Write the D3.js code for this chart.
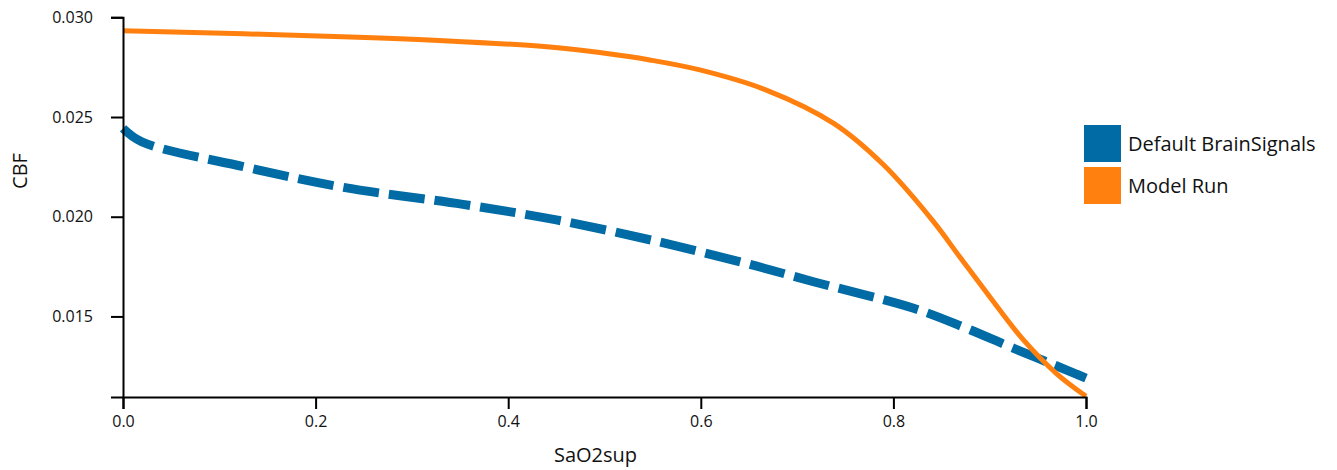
<!DOCTYPE html>
<html>
<head>
<meta charset="utf-8">
<script src="https://cdn.jsdelivr.net/npm/d3@7"></script>
<style>
  html, body { margin: 0; padding: 0; background: #fff; }
  svg { display: block; font-family: "Open Sans", sans-serif; }
</style>
</head>
<body>
<svg id="chart" width="1337" height="470"></svg>
<script>
// ---- data ----
const seriesNames = ["Default BrainSignals", "Model Run"];
const seriesColors = ["#006ba4", "#ff800e"];

const xDefault = [0, 0.0194, 0.125, 0.229, 0.353, 0.450, 0.551, 0.647, 0.717, 0.821, 0.873, 0.925, 0.99, 1.0];
const yDefault = [0.02443, 0.02376, 0.02251, 0.02147, 0.02062, 0.01984, 0.01880, 0.01766, 0.01674, 0.01541, 0.01446, 0.01340, 0.01211, 0.01191];

const xModel = [0, 0.228, 0.333, 0.443, 0.495, 0.547, 0.599, 0.668, 0.738, 0.790, 0.841, 0.869, 0.900, 0.935, 0.969, 1.0];
const yModel = [0.02933, 0.02903, 0.02883, 0.02851, 0.02823, 0.02786, 0.02736, 0.02635, 0.02468, 0.02259, 0.01979, 0.01798, 0.01599, 0.01382, 0.01215, 0.01100];

const xTicks = [0.0, 0.2, 0.4, 0.6, 0.8, 1.0];
const yTicks = [0.015, 0.020, 0.025, 0.030];
const xTitle = "SaO2sup";
const yTitle = "CBF";

(function () {
  // ---- layout ----
  const svg = d3.select("#chart");
  const pLeft = 123, pRight = 1086, pTop = 17.3, pBottom = 397;

  const x = d3.scaleLinear().domain([0, 1]).range([pLeft, pRight]);
  const y = d3.scaleLinear().domain([0.01096, 0.030]).range([pBottom, pTop]);

  const line = d3.line()
    .x(d => x(d[0]))
    .y(d => y(d[1]))
    .curve(d3.curveCatmullRom.alpha(0.5));

  const defaultPts = xDefault.map((v, i) => [v, yDefault[i]]);
  const modelPts = xModel.map((v, i) => [v, yModel[i]]);

  // lines
  svg.append("path")
    .attr("d", line(defaultPts))
    .attr("fill", "none")
    .attr("stroke", seriesColors[0])
    .attr("stroke-width", 9)
    .attr("stroke-dasharray", "36,10");

  svg.append("path")
    .attr("d", line(modelPts))
    .attr("fill", "none")
    .attr("stroke", seriesColors[1])
    .attr("stroke-width", 5)
    .attr("stroke-linejoin", "round");

  // axes
  const xAxis = d3.axisBottom(x).tickValues(xTicks).tickFormat(d3.format(".1f"))
    .tickSize(12).tickPadding(7);
  const yAxis = d3.axisLeft(y).tickValues(yTicks).tickFormat(d3.format(".3f"))
    .tickSize(12).tickPadding(18);

  const gx = svg.append("g").attr("transform", `translate(0,${pBottom})`).call(xAxis);
  const gy = svg.append("g").attr("transform", `translate(${pLeft},0)`).call(yAxis);

  [gx, gy].forEach(g => {
    g.select(".domain").attr("stroke", "#000").attr("stroke-width", 2);
    g.selectAll(".tick line").attr("stroke", "#000").attr("stroke-width", 2);
    g.selectAll(".tick text").attr("fill", "#111")
      .style("font-family", "'Open Sans', sans-serif").style("font-size", "16px");
  });

  // axis titles
  svg.append("text")
    .attr("x", (pLeft + pRight) / 2 - 9)
    .attr("y", 462)
    .attr("text-anchor", "middle")
    .style("font-size", "20px")
    .attr("fill", "#111")
    .text(xTitle);

  svg.append("text")
    .attr("transform", "translate(27,171) rotate(-90)")
    .attr("text-anchor", "middle")
    .style("font-size", "20px")
    .attr("fill", "#111")
    .text(yTitle);

  // legend
  const legend = svg.append("g").attr("transform", "translate(1084,125)");
  seriesNames.forEach((name, i) => {
    const g = legend.append("g").attr("transform", `translate(0,${i * 42})`);
    g.append("rect").attr("width", 37).attr("height", 37).attr("fill", seriesColors[i]);
    g.append("text").attr("x", 44).attr("y", 26)
      .style("font-size", "20px").attr("fill", "#111").text(name);
  });
})();
</script>
</body>
</html>
